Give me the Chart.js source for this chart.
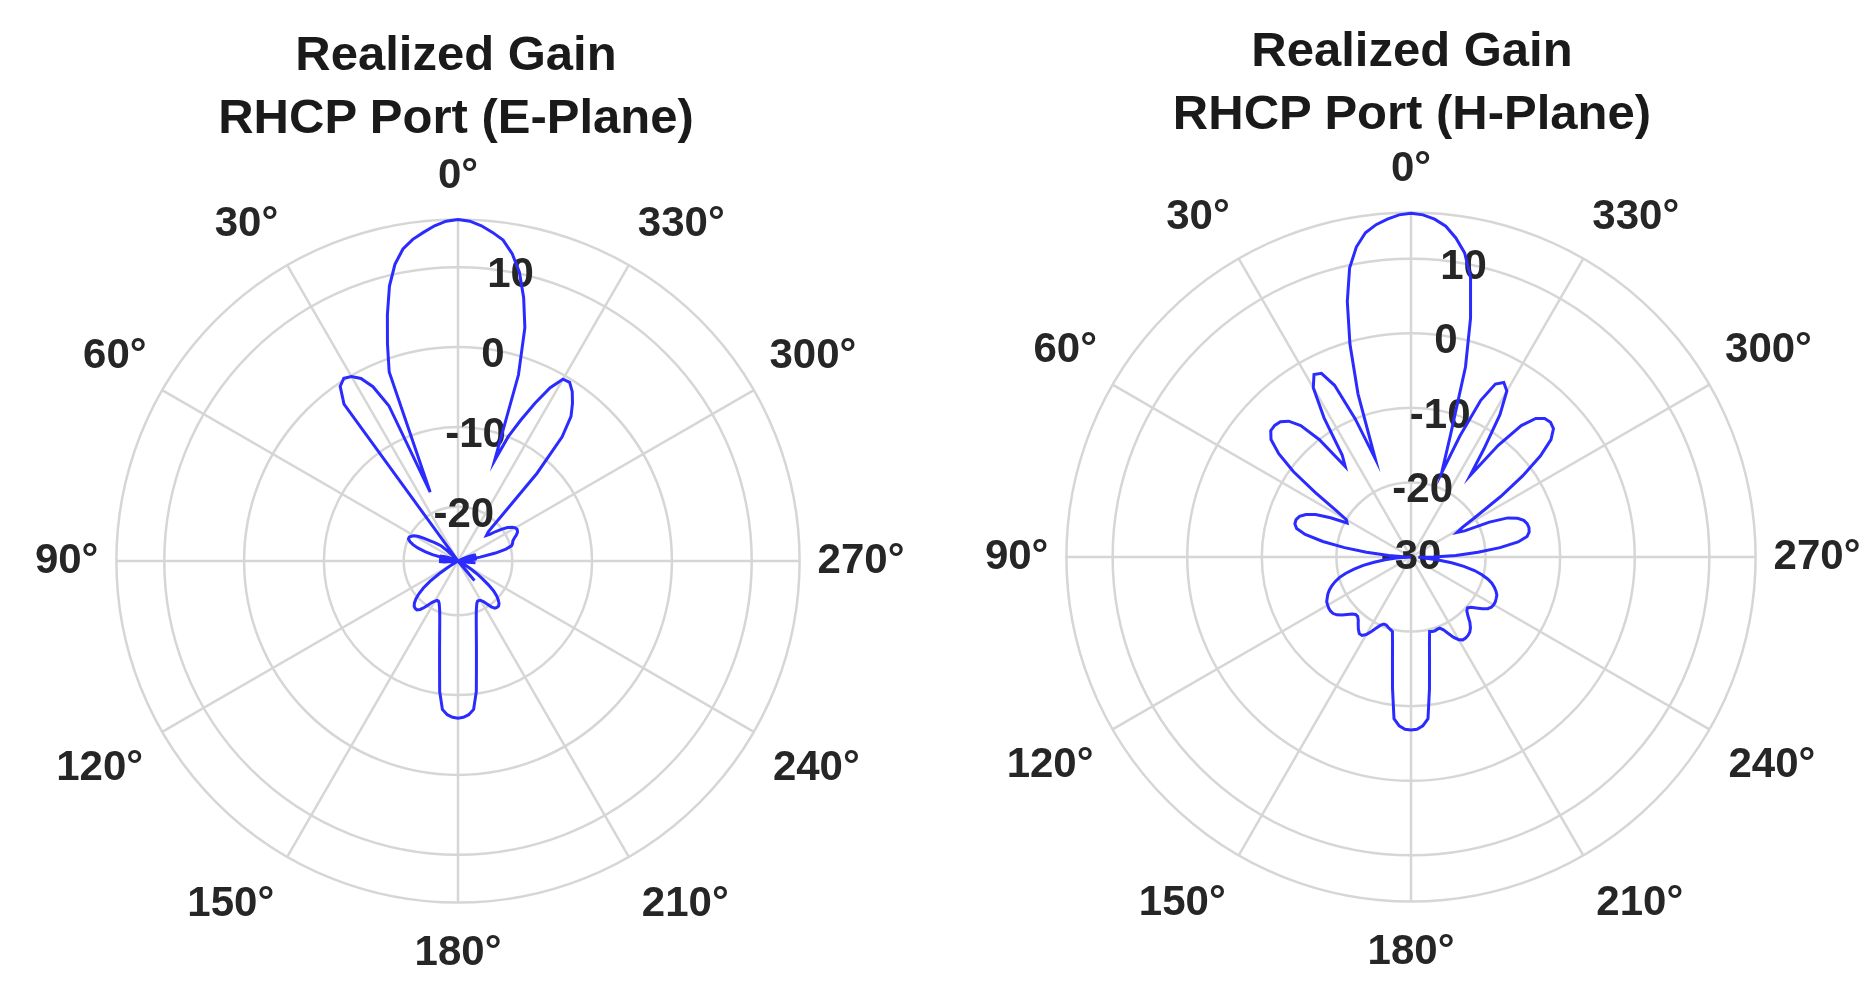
<!DOCTYPE html>
<html>
<head>
<meta charset="utf-8">
<script src="https://cdn.jsdelivr.net/npm/chart.js@4.4.1/dist/chart.umd.min.js"></script>
<style>
  body { margin: 0; background: #fff; width: 1875px; height: 999px; overflow: hidden; position: relative; font-family: "Liberation Sans", Arial, sans-serif; }
  .title { position: absolute; width: 700px; text-align: center; font-weight: bold; font-size: 49px; line-height: 63px; color: #1a1a1a; }
  canvas { position: absolute; top: 0; }
</style>
</head>
<body>
<div class="title" style="left:106px; top:22px;">Realized Gain<br>RHCP Port (E-Plane)</div>
<div class="title" style="left:1062px; top:18px;">Realized Gain<br>RHCP Port (H-Plane)</div>
<canvas id="ePlane" width="937" height="999" style="left:0"></canvas>
<canvas id="hPlane" width="938" height="999" style="left:937px"></canvas>
<script>
// theta in degrees, counter-clockwise from the top (2 deg steps)
const angles = [0, 2, 4, 6, 8, 10, 12, 14, 16, 18, 20, 22, 24, 26, 28, 30, 32, 34, 36, 38,
  40, 42, 44, 46, 48, 50, 52, 54, 56, 58, 60, 62, 64, 66, 68, 70, 72, 74, 76, 78,
  80, 82, 84, 86, 88, 90, 92, 94, 96, 98, 100, 102, 104, 106, 108, 110, 112, 114, 116, 118,
  120, 122, 124, 126, 128, 130, 132, 134, 136, 138, 140, 142, 144, 146, 148, 150, 152, 154, 156, 158,
  160, 162, 164, 166, 168, 170, 172, 174, 176, 178, 180, 182, 184, 186, 188, 190, 192, 194, 196, 198,
  200, 202, 204, 206, 208, 210, 212, 214, 216, 218, 220, 222, 224, 226, 228, 230, 232, 234, 236, 238,
  240, 242, 244, 246, 248, 250, 252, 254, 256, 258, 260, 262, 264, 266, 268, 270, 272, 274, 276, 278,
  280, 282, 284, 286, 288, 290, 292, 294, 296, 298, 300, 302, 304, 306, 308, 310, 312, 314, 316, 318,
  320, 322, 324, 326, 328, 330, 332, 334, 336, 338, 340, 342, 344, 346, 348, 350, 352, 354, 356, 358];

// realized gain (dB), E-plane
const eGain = [16.0, 15.8, 15.3, 14.6, 13.9, 12.9, 11.2, 8.7, 5.3, 1.8,
  -1.6, -17.5, -5.5, -2.5, -0.9, -0.1, 0.2, -0.4, -2.5, -27,
  -30, -28, -26, -25, -24, -23.5, -23, -22.5, -21.8, -21,
  -20.5, -20.2, -20, -20, -20.3, -20.8, -21.5, -22.5, -23.5, -25,
  -26.5, -28, -29, -28, -27.5, -27.5, -28, -28.5, -29, -29,
  -28.5, -28, -28, -28.5, -29, -29, -28.5, -28, -27.5, -27,
  -26.5, -25.5, -24, -22.5, -21.3, -20.4, -19.7, -19.2, -18.9, -18.8,
  -18.8, -19.1, -19.6, -20.2, -20.7, -21, -21.2, -21.2, -21, -20.6,
  -20.1, -19.4, -18.5, -17.3, -15.7, -13.5, -10.3, -8.1, -7.5, -7.2,
  -7.1,
  -7.2, -7.5, -8.1, -10.3, -13.5, -15.7, -17.3, -18.5, -19.4, -20.1,
  -20.6, -21, -21.2, -21.2, -21.1, -20.8, -20.3, -19.7, -19.3, -19.2,
  -19.2, -19.4, -19.8, -20.3, -21, -22, -23, -24, -24.8, -25.5,
  -26, -26.5, -27, -27.5, -28, -28.5, -29, -29, -28.5, -28,
  -28, -28.5, -29, -29, -29, -29, -28.5, -27.5, -26, -24,
  -22, -20.6, -19.8, -19.6, -19.5, -19.2, -18.8, -18.5, -18.4, -18.5,
  -18.8, -19.3, -20, -20.8, -21.6, -22, -21.5, -19, -12, -6.5,
  -3.8, -2.4, -1.2, -0.4, -0.5, -2.2, -4.8, -7.5, -10, -13.4,
  -2.3, 3.6, 7.2, 10.2, 12.3, 13.8, 14.6, 15.3, 15.8];

// realized gain (dB), H-plane
const hGain = [16.1, 15.9, 15.4, 14.8, 13.9, 12.2, 9.6, 5.3, -0.3, -7,
  -16, -10, -4.8, -2.6, -2.3, -3.8, -8, -13.5, -15, -10,
  -7, -5.5, -4.8, -4.6, -4.7, -5.5, -7.5, -10.5, -14.5, -18,
  -20, -20.3, -18, -16, -14.8, -14.1, -13.8, -13.8, -14.2, -15.5,
  -18, -21, -24, -27, -29, -30, -29.5, -28, -26.5, -25,
  -23.5, -22.2, -21, -20, -19.3, -18.7, -18.2, -17.8, -17.5, -17.2,
  -17.1, -17, -17, -17.1, -17.4, -17.9, -18.5, -19, -19.3, -19.3,
  -19, -18.5, -18, -17.6, -17.6, -18, -18.7, -19.4, -20, -20.3,
  -20.3, -20.1, -19.9, -19.7, -18.1, -15.7, -12.2, -8.2, -7.3, -6.9,
  -6.8,
  -6.9, -7.3, -8.2, -12.2, -15.7, -18.1, -19.7, -19.6, -19.6, -19.7,
  -19.7, -19.3, -18.6, -17.8, -17.2, -16.9, -16.9, -17, -17.2, -17.6,
  -18.2, -19, -19.6, -19.8, -19.5, -18.9, -18.2, -17.6, -17.3, -17.2,
  -17.2, -17.3, -17.4, -17.7, -18.1, -18.6, -19.3, -20.2, -21.3, -22.8,
  -24.5, -26.5, -28.5, -29, -27, -24, -21, -18, -15.5, -14.2,
  -13.8, -13.7, -13.8, -14.1, -14.8, -16, -18.5, -22, -23, -22,
  -19.5, -15.5, -11.5, -8, -5.5, -4.3, -4, -4.2, -5, -7,
  -11, -16.5, -12.5, -7.5, -4.3, -3.5, -4.2, -7, -12.5, -18,
  -13, -3.5, 3.0, 8.4, 11.4, 13.2, 14.6, 15.4, 15.9];

// radial limits (dB)
const eLimits = [-26.8, 16];
const hLimits = [-30, 16.2];

const labelFont = { family: 'Liberation Sans', size: 42, weight: 'bold' };

// radar draws clockwise from the top, the plot counts counter-clockwise
function clockwise(arr) {
  return arr.map((v, i) => arr[(arr.length - i) % arr.length]);
}

function makeChart(id, gains, limits, padding, tickShift) {
  const ctx = document.getElementById(id);
  return new Chart(ctx, {
    type: 'radar',
    data: {
      labels: clockwise(angles),
      datasets: [{
        data: clockwise(gains),
        borderColor: '#2b2bff',
        borderWidth: 3,
        fill: false,
        pointRadius: 0,
        tension: 0
      }]
    },
    options: {
      responsive: false,
      animation: false,
      devicePixelRatio: 1,
      layout: { padding: padding },
      plugins: { legend: { display: false }, tooltip: { enabled: false } },
      scales: {
        r: {
          min: limits[0],
          max: limits[1],
          grid: { circular: true, color: '#d6d6d6', lineWidth: 2.5 },
          angleLines: { color: '#d6d6d6', lineWidth: c => (c.label ? 2.5 : 0) },
          ticks: {
            stepSize: 10,
            showLabelBackdrop: false,
            backdropPadding: 0,
            color: '#262626',
            // small line height: the empty first line nudges the label down a little
            font: { family: 'Liberation Sans', size: 42, weight: 'bold', lineHeight: 0.2 },
            // leading spaces push the labels a bit right of the 0 deg line
            callback: v => {
              if (v % 10 !== 0) return '';
              const text = ' '.repeat(tickShift[v] || 0) + v;
              return v === limits[0] ? text : ['', text];
            }
          },
          pointLabels: {
            // labels on the lower half sit a bit further out
            padding: c => {
              const a = parseInt(c.label, 10);
              if (a === 120 || a === 240) return 1;
              return a > 90 && a < 270 ? 5 : -3;
            },
            color: '#262626',
            font: labelFont,
            callback: a => (a % 30 === 0 ? a + '°' : '')
          }
        }
      }
    }
  });
}

makeChart('ePlane', eGain, eLimits, { left: 19, right: 16, top: 148, bottom: 16 }, { 10: 9, 0: 6, '-10': 3, '-20': 1 });
makeChart('hPlane', hGain, hLimits, { left: 35, right: 1, top: 141, bottom: 17 }, { 10: 9, 0: 6, '-10': 5, '-20': 2 });
</script>
</body>
</html>
